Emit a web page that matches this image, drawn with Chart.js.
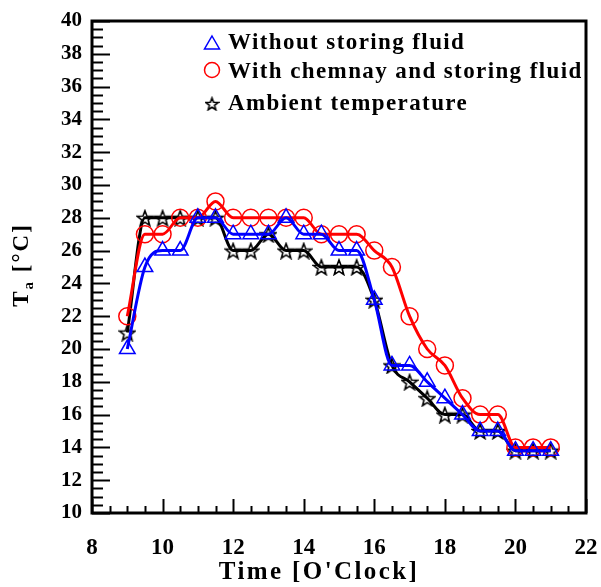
<!DOCTYPE html>
<html>
<head>
<meta charset="utf-8">
<script src="https://cdn.jsdelivr.net/npm/chart.js@4"></script>
<style>
  html, body { margin: 0; padding: 0; background: #fff; }
  #wrap { width: 601px; height: 587px; }
</style>
</head>
<body>
<div id="wrap"><canvas id="chart" width="601" height="587"></canvas></div>
<script>
// tid (klokkeslett) og temperaturer lest av figuren
const times = [9, 9.5, 10, 10.5, 11, 11.5, 12, 12.5, 13, 13.5, 14, 14.5, 15, 15.5, 16, 16.5, 17, 17.5, 18, 18.5, 19, 19.5, 20, 20.5, 21];
const withoutFluid = [20, 25, 26, 26, 28, 28, 27, 27, 27, 28, 27, 27, 26, 26, 23, 19, 19, 18, 17, 16, 15, 15, 13.8, 13.8, 13.8];
const withChimney = [22, 27, 27, 28, 28, 29, 28, 28, 28, 28, 28, 27, 27, 27, 26, 25, 22, 20, 19, 17, 16, 16, 14, 14, 14];
const ambient = [21, 28, 28, 28, 28, 28, 26, 26, 27, 26, 26, 25, 25, 25, 23, 19, 18, 17, 16, 16, 15, 15, 13.8, 13.8, 13.8];

const xTicks = [8, 10, 12, 14, 16, 18, 20, 22];
const yTicks = [10, 12, 14, 16, 18, 20, 22, 24, 26, 28, 30, 32, 34, 36, 38, 40];

const FONT = "'Liberation Serif', 'Times New Roman', serif";

function starImage(size, color) {
    const c = document.createElement('canvas');
    c.width = size; c.height = size;
    const g = c.getContext('2d');
    const cx = size / 2, cy = size / 2 + 1, R = size / 2 - 1, r = R * 0.42;
    g.beginPath();
    for (let i = 0; i < 10; i++) {
        const rad = i % 2 === 0 ? R : r;
        const a = -Math.PI / 2 + i * Math.PI / 5;
        const px = cx + rad * Math.cos(a), py = cy + rad * Math.sin(a);
        if (i === 0) g.moveTo(px, py); else g.lineTo(px, py);
    }
    g.closePath();
    g.strokeStyle = color;
    g.lineWidth = 1.6;
    g.stroke();
    return c;
}
const star = starImage(18, '#000');
const starSmall = starImage(15, '#000');

const toPts = arr => arr.map((v, i) => ({ x: times[i], y: v }));

// ramme, innvendige tikk, aksetitler og legende
const framePlugin = {
    id: 'frame',
    afterDraw(chart) {
        const ctx = chart.ctx;
        const { left, right, top, bottom } = chart.chartArea;
        const xs = chart.scales.x, ys = chart.scales.y;
        ctx.save();
        ctx.strokeStyle = '#000';
        ctx.lineWidth = 2;
        for (let v = 8; v <= 22.001; v += 0.5) {
            const px = Math.round(xs.getPixelForValue(v)) + 0.5;
            const len = (v % 2 === 0) ? 14 : 7;
            ctx.beginPath(); ctx.moveTo(px, bottom); ctx.lineTo(px, bottom - len); ctx.stroke();
        }
        for (let v = 10; v <= 40.001; v += 0.5) {
            const py = Math.round(ys.getPixelForValue(v)) + 0.5;
            const len = (v % 2 === 0) ? 18 : 11;
            ctx.beginPath(); ctx.moveTo(left, py); ctx.lineTo(left + len, py); ctx.stroke();
        }
        ctx.lineWidth = 3;
        ctx.strokeRect(left, top, right - left, bottom - top);

        ctx.fillStyle = '#000';

        // x-aksetittel
        ctx.letterSpacing = '2.4px';
        ctx.font = 'bold 25px ' + FONT;
        ctx.textAlign = 'center';
        ctx.textBaseline = 'middle';
        ctx.fillText("Time [O'Clock]", 319, 573);

        // y-aksetittel med senket a
        ctx.letterSpacing = '2px';
        ctx.textAlign = 'left';
        ctx.translate(28, 265);
        ctx.rotate(-Math.PI / 2);
        ctx.textBaseline = 'alphabetic';
        ctx.font = 'bold 23px ' + FONT;
        const w1 = ctx.measureText('T').width;
        ctx.font = 'bold 15px ' + FONT;
        const w2 = ctx.measureText('a').width;
        ctx.font = 'bold 23px ' + FONT;
        const w3 = ctx.measureText(' [\u00B0C]').width;
        let x0 = -(w1 + w2 + w3) / 2;
        ctx.fillText('T', x0, 0);
        ctx.font = 'bold 15px ' + FONT;
        ctx.fillText('a', x0 + w1, 5);
        ctx.font = 'bold 23px ' + FONT;
        ctx.fillText(' [\u00B0C]', x0 + w1 + w2, 0);
        ctx.setTransform(1, 0, 0, 1, 0, 0);

        // legende
        const rows = [
            { label: 'Without storing fluid', y: 43, mark: 'tri' },
            { label: 'With chemnay and storing fluid', y: 72, mark: 'circ' },
            { label: 'Ambient temperature', y: 104, mark: 'star' }
        ];
        ctx.font = 'bold 23px ' + FONT;
        ctx.letterSpacing = '1.4px';
        ctx.textBaseline = 'middle';
        rows.forEach(r => {
            const mx = 212;
            ctx.lineWidth = 1.5;
            if (r.mark === 'tri') {
                ctx.strokeStyle = '#0000ff';
                ctx.beginPath();
                ctx.moveTo(mx, r.y - 7); ctx.lineTo(mx + 7.5, r.y + 6); ctx.lineTo(mx - 7.5, r.y + 6);
                ctx.closePath(); ctx.stroke();
            } else if (r.mark === 'circ') {
                ctx.strokeStyle = '#ff0000';
                ctx.beginPath(); ctx.arc(mx, r.y - 2, 7.5, 0, Math.PI * 2); ctx.stroke();
            } else {
                ctx.drawImage(starSmall, mx - 7.5, r.y - 8);
            }
            ctx.fillStyle = '#000';
            ctx.fillText(r.label, 228, r.y);
        });
        ctx.restore();
    }
};

const ctx = document.getElementById('chart').getContext('2d');
new Chart(ctx, {
    type: 'line',
    data: {
        datasets: [
            {
                label: 'Without storing fluid',
                data: toPts(withoutFluid),
                borderColor: '#0000ff',
                backgroundColor: 'transparent',
                borderWidth: 3,
                pointStyle: 'triangle',
                pointRadius: 9,
                pointBorderWidth: 1.5,
                pointBorderColor: '#0000ff',
                pointBackgroundColor: 'transparent',
                cubicInterpolationMode: 'monotone'
            },
            {
                label: 'With chemnay and storing fluid',
                data: toPts(withChimney),
                borderColor: '#ff0000',
                backgroundColor: 'transparent',
                borderWidth: 3,
                pointStyle: 'circle',
                pointRadius: 8.5,
                pointBorderWidth: 1.5,
                pointBorderColor: '#ff0000',
                pointBackgroundColor: 'transparent',
                cubicInterpolationMode: 'monotone'
            },
            {
                label: 'Ambient temperature',
                data: toPts(ambient),
                borderColor: '#000000',
                backgroundColor: 'transparent',
                borderWidth: 3,
                pointStyle: star,
                pointRadius: 9,
                cubicInterpolationMode: 'monotone'
            }
        ]
    },
    options: {
        responsive: false,
        animation: false,
        layout: { padding: { top: 21, right: 15, left: 0, bottom: 0 } },
        plugins: {
            legend: { display: false },
            tooltip: { enabled: false }
        },
        scales: {
            x: {
                type: 'linear',
                min: 8,
                max: 22,
                afterBuildTicks: s => { s.ticks = xTicks.map(v => ({ value: v })); },
                afterFit: s => { s.height = 74; s.paddingLeft = 0; s.paddingRight = 0; },
                grid: { display: false, drawTicks: false },
                border: { display: false },
                ticks: {
                    color: '#000',
                    padding: 21,
                    maxRotation: 0,
                    font: { family: FONT, size: 23, weight: 'bold' }
                }
            },
            y: {
                min: 10,
                max: 40,
                afterBuildTicks: s => { s.ticks = yTicks.map(v => ({ value: v })); },
                afterFit: s => { s.width = 92; s.paddingTop = 0; s.paddingBottom = 0; },
                grid: { display: false, drawTicks: false },
                border: { display: false },
                ticks: {
                    color: '#000',
                    padding: 10,
                    font: { family: FONT, size: 21, weight: 'bold' }
                }
            }
        }
    },
    plugins: [framePlugin]
});
</script>
</body>
</html>
